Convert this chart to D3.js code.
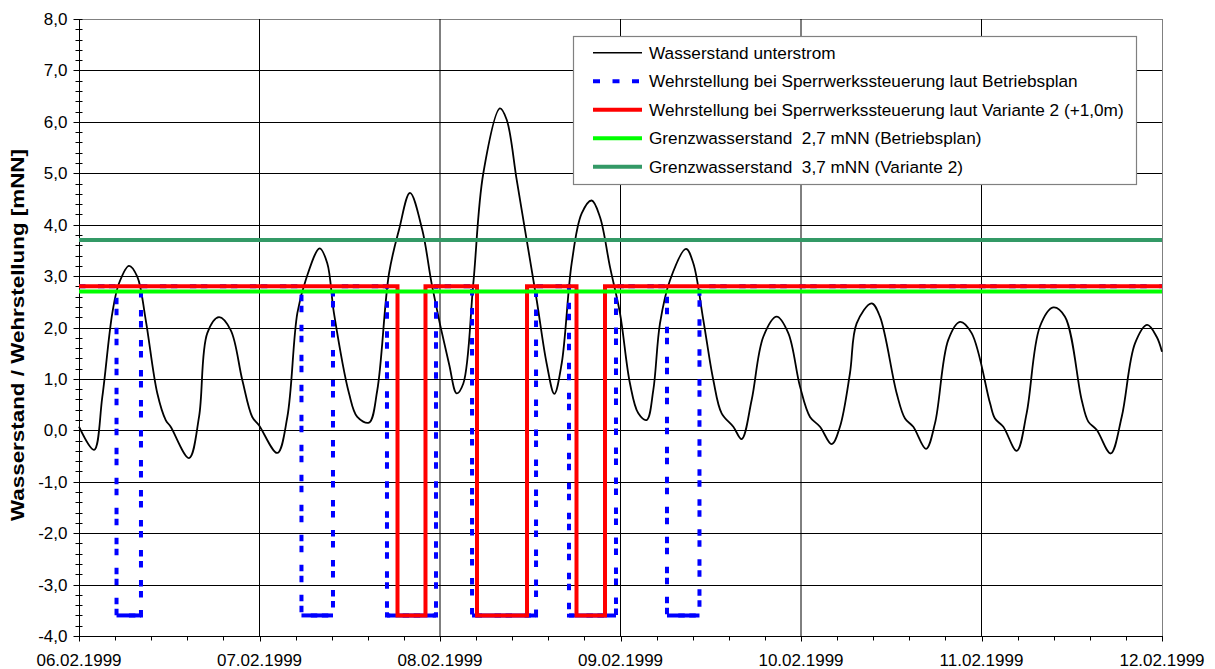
<!DOCTYPE html>
<html>
<head>
<meta charset="utf-8">
<script src="https://cdn.jsdelivr.net/npm/d3@7"></script>
<style>
  html, body { margin: 0; padding: 0; background: #fff; }
  svg { display: block; font-family: "Liberation Sans", Arial, sans-serif; }
</style>
</head>
<body>
<svg id="chart" width="1215" height="669"></svg>
<script>
// Water level downstream: hours after 06.02.1999 00:00 and level in mNN
const hours = [0, 2.0, 3.1, 4.43, 5.32, 6.65, 7.75, 8.87, 10.41, 11.53, 12.19, 14.63, 15.96, 17.06, 18.61, 20.17,
  21.71, 23.04, 23.93, 26.37, 27.7, 29.03, 30.14, 32.0, 33.01, 33.9, 35.9, 37.0, 38.56, 39.66, 41.22, 42.55,
  44.01, 45.64, 46.97, 49.19, 50.22, 51.1, 52.43, 53.76, 55.98, 56.87, 58.2, 59.53, 60.86, 62.18, 63.2, 64.18,
  65.51, 66.84, 68.17, 69.27, 70.6, 71.93, 73.26, 74.37, 75.48, 76.36, 77.25, 78.58, 80.71, 81.68, 83.01,
  84.34, 85.45, 87.0, 88.11, 89.44, 90.99, 92.77, 94.31, 95.87, 97.2, 98.53, 100.08, 101.18, 102.51, 103.4,
  105.39, 106.5, 108.72, 109.83, 110.93, 112.62, 113.82, 115.58, 117.14, 118.69, 121.13, 121.79, 122.9,
  124.68, 126.0, 127.77, 129.54, 131.1, 133.32, 134.2, 135.31, 137.17, 138.64, 140.41, 142.04, 143.29, 144.0];
const level = [0.07, -0.38, 0.65, 2.28, 2.86, 3.2, 2.99, 2.15, 0.72, 0.2, 0.07, -0.54, 0.26, 1.89, 2.2, 1.95,
  0.98, 0.26, 0.1, -0.44, 0.26, 2.28, 2.92, 3.54, 3.25, 2.28, 0.72, 0.26, 0.15, 0.78, 3.05, 3.9,
  4.62, 3.9, 2.79, 1.3, 0.72, 0.91, 2.86, 5.0, 6.26, 6.04, 4.87, 3.7, 2.53, 1.3, 0.71, 1.3,
  3.25, 4.22, 4.47, 4.15, 3.18, 2.28, 0.91, 0.33, 0.2, 0.78, 2.08, 2.92, 3.53, 3.25, 2.15,
  0.98, 0.33, 0.07, -0.17, 0.59, 1.82, 2.21, 1.89, 0.85, 0.26, 0.07, -0.27, 0.07, 1.11, 2.08,
  2.47, 2.21, 0.72, 0.23, 0.07, -0.36, 0.14, 1.76, 2.11, 1.89, 0.53, 0.23, 0.07,
  -0.4, 0.33, 2.02, 2.39, 2.21, 0.59, 0.17, 0.01, -0.45, 0.26, 1.69, 2.05, 1.82, 1.53];

// Gate closures [close hour, reopen hour]
const closuresPlan = [[4.99, 8.24], [29.58, 33.77], [40.95, 47.47], [52.26, 60.77], [65.15, 71.4], [78.18, 82.5]];
const closuresVariant = [[42.35, 46.07], [52.92, 59.57], [66.15, 69.94]];
const gateOpen = 2.8;
const gateClosed = -3.6;

// Limit water levels
const limitPlan = 2.7;
const limitVariant = 3.7;

const yTickValues = [-4, -3, -2, -1, 0, 1, 2, 3, 4, 5, 6, 7, 8];
const xTickLabels = ["06.02.1999", "07.02.1999", "08.02.1999", "09.02.1999", "10.02.1999", "11.02.1999", "12.02.1999"];

const legendLabels = [
  "Wasserstand unterstrom",
  "Wehrstellung bei Sperrwerkssteuerung laut Betriebsplan",
  "Wehrstellung bei Sperrwerkssteuerung laut Variante 2 (+1,0m)",
  "Grenzwasserstand  2,7 mNN (Betriebsplan)",
  "Grenzwasserstand  3,7 mNN (Variante 2)"
];

const start = new Date(1999, 1, 6);
const end = new Date(1999, 1, 12);
const toDate = h => new Date(start.getTime() + h * 3600e3);

const svg = d3.select("#chart");
const plotLeft = 79, plotRight = 1162, plotTop = 19, plotBottom = 636;

const x = d3.scaleTime().domain([start, end]).range([plotLeft, plotRight]);
const y = d3.scaleLinear().domain([-4, 8]).range([plotBottom, plotTop]);

const de = d3.formatLocale({ decimal: ",", thousands: ".", grouping: [3], currency: ["", " €"], minus: "-" });
const fmtY = de.format(".1f");

// Plot area frame
svg.append("rect")
  .attr("x", plotLeft + 0.5).attr("y", plotTop + 0.5)
  .attr("width", plotRight - plotLeft).attr("height", plotBottom - plotTop)
  .attr("fill", "#fff").attr("stroke", "#808080").attr("stroke-width", 1);

// Gridlines
const grid = svg.append("g");
grid.selectAll("line.h").data(yTickValues.filter(v => v > -4 && v < 8)).join("line")
  .attr("x1", plotLeft).attr("x2", plotRight)
  .attr("y1", d => Math.round(y(d)) + 0.5).attr("y2", d => Math.round(y(d)) + 0.5)
  .attr("stroke", "#000").attr("stroke-width", 1);
const dayTicks = d3.timeDay.range(start, end, 1).slice(1);
grid.selectAll("line.v").data(dayTicks).join("line")
  .attr("y1", plotTop).attr("y2", plotBottom)
  .attr("x1", d => x(d)).attr("x2", d => x(d))
  .attr("stroke", "#000").attr("stroke-width", 1);

// Y axis
const yAxis = svg.append("g").attr("transform", `translate(${plotLeft + 0.5},0)`);
yAxis.append("line").attr("y1", plotTop).attr("y2", plotBottom + 1).attr("stroke", "#000");
const yMinor = d3.range(-4, 8.001, 0.2);
yAxis.selectAll("line.minor").data(yMinor).join("line")
  .attr("x1", -4).attr("x2", 3)
  .attr("y1", d => Math.round(y(d)) + 0.5).attr("y2", d => Math.round(y(d)) + 0.5)
  .attr("stroke", "#000");
yAxis.selectAll("line.major").data(yTickValues).join("line")
  .attr("x1", -6).attr("x2", 0)
  .attr("y1", d => Math.round(y(d)) + 0.5).attr("y2", d => Math.round(y(d)) + 0.5)
  .attr("stroke", "#000");
yAxis.selectAll("text").data(yTickValues).join("text")
  .attr("x", -12).attr("y", d => y(d) + 6)
  .attr("text-anchor", "end").attr("font-size", 17).attr("fill", "#000")
  .text(d => fmtY(d));

// X axis
const xAxis = svg.append("g").attr("transform", `translate(0,${plotBottom + 0.5})`);
xAxis.append("line").attr("x1", plotLeft).attr("x2", plotRight + 1).attr("stroke", "#000");
const xMinor = d3.range(0, 144.001, 4.8).map(toDate);
xAxis.selectAll("line.minor").data(xMinor).join("line")
  .attr("x1", d => Math.round(x(d)) + 0.5).attr("x2", d => Math.round(x(d)) + 0.5)
  .attr("y1", 0).attr("y2", 4).attr("stroke", "#000");
const xMajor = d3.timeDay.range(start, d3.timeDay.offset(end, 1), 1);
xAxis.selectAll("line.major").data(xMajor).join("line")
  .attr("x1", d => Math.round(x(d)) + 0.5).attr("x2", d => Math.round(x(d)) + 0.5)
  .attr("y1", 0).attr("y2", 5).attr("stroke", "#000");
xAxis.selectAll("text").data(xMajor).join("text")
  .attr("x", d => x(d)).attr("y", 29.5)
  .attr("text-anchor", "middle").attr("font-size", 17).attr("fill", "#000")
  .text((d, i) => xTickLabels[i]);

// Y axis title
svg.append("text")
  .attr("transform", `translate(24,335) rotate(-90)`)
  .attr("text-anchor", "middle").attr("font-size", 18).attr("font-weight", "bold")
  .attr("fill", "#000")
  .attr("textLength", 372).attr("lengthAdjust", "spacingAndGlyphs")
  .text("Wasserstand / Wehrstellung [mNN]");

// Series
const plot = svg.append("g");
const waterLine = d3.line().x(d => x(toDate(d[0]))).y(d => y(d[1])).curve(d3.curveCatmullRom.alpha(0.5));
const stepLine = d3.line().x(d => x(toDate(d[0]))).y(d => y(d[1]));

function gateSteps(closures) {
  const pts = [[0, gateOpen]];
  closures.forEach(([c, o]) => {
    pts.push([c, gateOpen], [c, gateClosed], [o, gateClosed], [o, gateOpen]);
  });
  pts.push([144, gateOpen]);
  return pts;
}

plot.append("path")
  .datum(hours.map((h, i) => [h, level[i]]))
  .attr("d", waterLine)
  .attr("fill", "none").attr("stroke", "#000").attr("stroke-width", 1.8);

plot.append("path")
  .datum(gateSteps(closuresPlan))
  .attr("d", stepLine)
  .attr("fill", "none").attr("stroke", "#0000ff").attr("stroke-width", 4)
  .attr("stroke-dasharray", "6.5,12.5,6.5,4.5");
plot.selectAll("line.closed").data(closuresPlan).join("line")
  .attr("x1", d => x(toDate(d[0]))).attr("x2", d => x(toDate(d[1])))
  .attr("y1", y(gateClosed)).attr("y2", y(gateClosed))
  .attr("stroke", "#0000ff").attr("stroke-width", 4);

plot.append("path")
  .datum(gateSteps(closuresVariant))
  .attr("d", stepLine)
  .attr("fill", "none").attr("stroke", "#ff0000").attr("stroke-width", 4)
  .attr("stroke-linejoin", "miter");

plot.append("line")
  .attr("x1", plotLeft).attr("x2", plotRight)
  .attr("y1", y(limitPlan)).attr("y2", y(limitPlan))
  .attr("stroke", "#00ff00").attr("stroke-width", 4);
plot.append("line")
  .attr("x1", plotLeft).attr("x2", plotRight)
  .attr("y1", y(limitVariant)).attr("y2", y(limitVariant))
  .attr("stroke", "#339966").attr("stroke-width", 4);

// Legend
const legend = svg.append("g");
legend.append("rect")
  .attr("x", 573.5).attr("y", 36.5).attr("width", 563).attr("height", 148)
  .attr("fill", "#fff").attr("stroke", "#808080").attr("stroke-width", 1.2);
const legendStyles = [
  { color: "#000", width: 1.5, dash: null },
  { color: "#0000ff", width: 4, dash: "7,12.5" },
  { color: "#ff0000", width: 4, dash: null },
  { color: "#00ff00", width: 4, dash: null },
  { color: "#339966", width: 4, dash: null }
];
const rows = legend.selectAll("g").data(legendLabels).join("g")
  .attr("transform", (d, i) => `translate(0,${52.7 + i * 28.5})`);
rows.append("line")
  .attr("x1", 593).attr("x2", 642).attr("y1", 0).attr("y2", 0)
  .attr("stroke", (d, i) => legendStyles[i].color)
  .attr("stroke-width", (d, i) => legendStyles[i].width)
  .attr("stroke-dasharray", (d, i) => legendStyles[i].dash);
rows.append("text")
  .attr("x", 649).attr("y", 6)
  .attr("font-size", 17.2).attr("fill", "#000")
  .style("white-space", "pre")
  .text(d => d);
</script>
</body>
</html>
